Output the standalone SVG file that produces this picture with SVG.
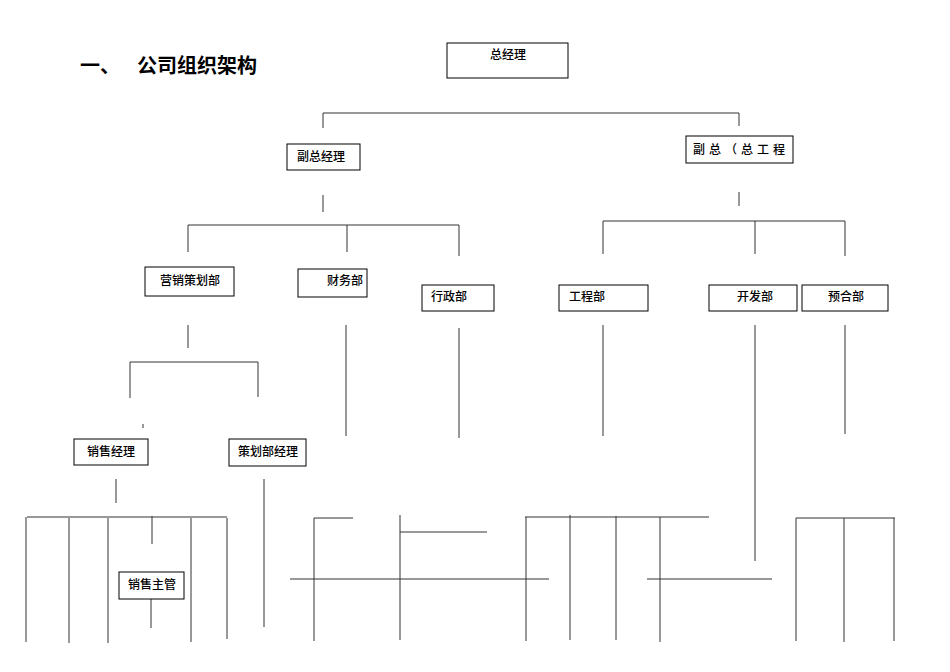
<svg xmlns="http://www.w3.org/2000/svg" width="950" height="672" viewBox="0 0 950 672">
<style>
.b rect{fill:#fff;stroke:#000;stroke-width:1}
.b text{font-family:"Liberation Sans","Noto Sans CJK SC",sans-serif;font-size:12px;fill:#000;font-weight:500}
#c line{stroke:#333;stroke-width:1}
.t{font-family:"Liberation Sans","Noto Sans CJK SC",sans-serif;font-size:20px;font-weight:bold}
</style>
<rect width="950" height="672" fill="#fff"/>
<text class="t" x="80" y="73">一、</text>
<text class="t" x="137" y="73">公司组织架构</text>
<g id="c">
<line x1="323" y1="113" x2="739" y2="113"/><line x1="323" y1="113" x2="323" y2="128"/><line x1="739" y1="113" x2="739" y2="126"/>
<line x1="323" y1="195" x2="323" y2="212"/><line x1="739" y1="192" x2="739" y2="206"/>
<line x1="188" y1="225" x2="459" y2="225"/><line x1="188" y1="225" x2="188" y2="252"/><line x1="347" y1="225" x2="347" y2="252"/><line x1="459" y1="225" x2="459" y2="256"/>
<line x1="603" y1="221" x2="845" y2="221"/><line x1="603" y1="221" x2="603" y2="254"/><line x1="755" y1="221" x2="755" y2="254"/><line x1="845" y1="221" x2="845" y2="256"/>
<line x1="188" y1="325" x2="188" y2="348"/>
<line x1="130" y1="362" x2="258" y2="362"/><line x1="130" y1="362" x2="130" y2="398"/><line x1="258" y1="362" x2="258" y2="397"/>
<line x1="143" y1="424" x2="143" y2="428"/>
<line x1="346" y1="325" x2="346" y2="436"/><line x1="459" y1="328" x2="459" y2="438"/><line x1="603" y1="325" x2="603" y2="436"/><line x1="755" y1="325" x2="755" y2="561"/><line x1="845" y1="325" x2="845" y2="434"/>
<line x1="116" y1="479" x2="116" y2="503"/>
<line x1="27" y1="517" x2="227" y2="517"/><line x1="26" y1="517" x2="26" y2="642"/><line x1="69" y1="518" x2="69" y2="643"/><line x1="108" y1="518" x2="108" y2="643"/><line x1="152" y1="516" x2="152" y2="544"/><line x1="191" y1="518" x2="191" y2="642"/><line x1="227" y1="518" x2="227" y2="639"/><line x1="151" y1="595" x2="151" y2="628"/>
<line x1="264" y1="479" x2="264" y2="627"/>
<line x1="314" y1="518" x2="353" y2="518"/><line x1="314" y1="518" x2="314" y2="641"/><line x1="400" y1="515" x2="400" y2="640"/><line x1="400" y1="532" x2="487" y2="532"/><line x1="290" y1="579" x2="549" y2="579"/>
<line x1="525" y1="517" x2="709" y2="517"/><line x1="526" y1="517" x2="526" y2="641"/><line x1="570" y1="515" x2="570" y2="640"/><line x1="616" y1="516" x2="616" y2="640"/><line x1="660" y1="517" x2="660" y2="642"/>
<line x1="647" y1="579" x2="772" y2="579"/>
<line x1="796" y1="518" x2="895" y2="518"/><line x1="796" y1="518" x2="796" y2="641"/><line x1="844" y1="518" x2="844" y2="642"/><line x1="894" y1="518" x2="894" y2="641"/>
</g>
<g id="n1" class="b"><rect x="447" y="43" width="121" height="35"/><text x="490" y="59">总经理</text></g>
<g id="n2" class="b"><rect x="287" y="144" width="73" height="26"/><text x="297" y="161">副总经理</text></g>
<g id="n3" class="b"><rect x="686" y="136" width="107" height="27"/><text x="693" y="154" letter-spacing="4">副总（总工程</text></g>
<g id="n4" class="b"><rect x="145" y="267" width="89" height="29"/><text x="160" y="285">营销策划部</text></g>
<g id="n5" class="b"><rect x="298" y="269" width="69" height="28"/><text x="327" y="285">财务部</text></g>
<g id="n6" class="b"><rect x="422" y="285" width="72" height="26"/><text x="431" y="301">行政部</text></g>
<g id="n7" class="b"><rect x="559" y="285" width="89" height="26"/><text x="569" y="301">工程部</text></g>
<g id="n8" class="b"><rect x="709" y="285" width="88" height="26"/><text x="737" y="301">开发部</text></g>
<g id="n9" class="b"><rect x="802" y="285" width="86" height="26"/><text x="828" y="301">预合部</text></g>
<g id="n10" class="b"><rect x="74" y="439" width="74" height="26"/><text x="87" y="456">销售经理</text></g>
<g id="n11" class="b"><rect x="229" y="439" width="77" height="27"/><text x="238" y="456">策划部经理</text></g>
<g id="n12" class="b"><rect x="119" y="572" width="65" height="27"/><text x="128" y="589">销售主管</text></g>
</svg>
